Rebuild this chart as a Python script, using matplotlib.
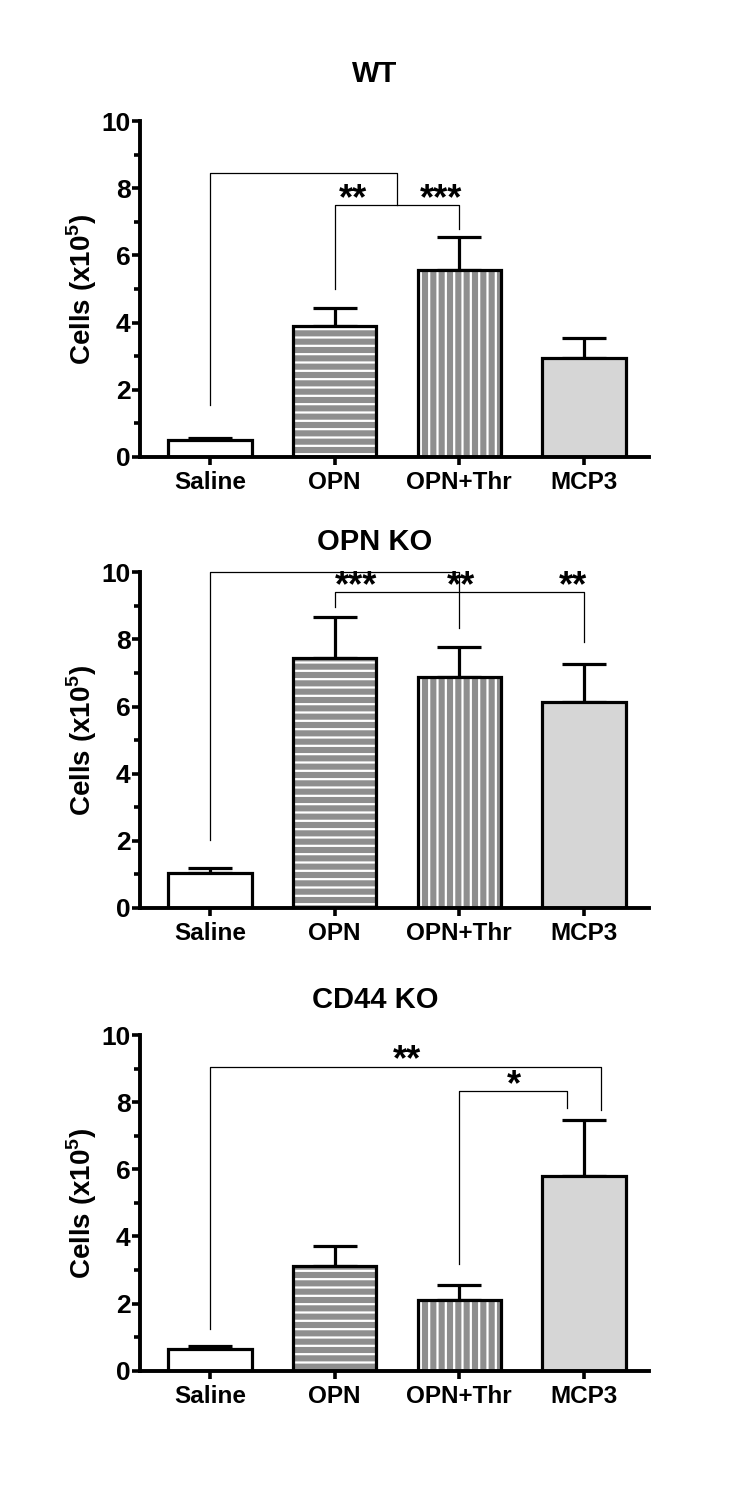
import numpy as np
import matplotlib.pyplot as plt

plt.rcParams['font.family'] = ['Liberation Sans', 'DejaVu Sans']
plt.rcParams['font.weight'] = 'bold'
plt.rcParams['mathtext.fontset'] = 'custom'
plt.rcParams['mathtext.rm'] = 'Liberation Sans:bold'
plt.rcParams['mathtext.bf'] = 'Liberation Sans:bold'
plt.rcParams['hatch.linewidth'] = 1.6

# groups and panels
groups = ["Saline", "OPN", "OPN+Thr", "MCP3"]
panels = ["WT", "OPN KO", "CD44 KO"]

# mean cell counts (x10^5) and upper SEM for each panel
wt_mean = [0.49, 3.91, 5.58, 2.95]
wt_err = [0.08, 0.53, 0.98, 0.59]
opnko_mean = [1.05, 7.45, 6.87, 6.12]
opnko_err = [0.15, 1.22, 0.90, 1.14]
cd44ko_mean = [0.64, 3.12, 2.12, 5.81]
cd44ko_err = [0.10, 0.59, 0.43, 1.67]

# significance brackets: (x_left, x_right, y_bar, y_left_end, y_right_end)
wt_brackets = [(0, 1.5, 8.47, 1.54, 7.5), (1, 2, 7.5, 5.0, 6.8)]
wt_stars = [(1.15, 7.5, "**"), (1.85, 7.5, "***")]
opnko_brackets = [(0, 2, 10.02, 2.01, 8.35), (1, 3, 9.42, 8.97, 7.93)]
opnko_stars = [(1.17, 9.42, "***"), (2.01, 9.42, "**"), (2.91, 9.42, "**")]
cd44ko_brackets = [(0, 3.135, 9.06, 1.24, 7.77), (2, 2.865, 8.34, 3.17, 7.84)]
cd44ko_stars = [(1.58, 9.06, "**"), (2.44, 8.34, "*")]

means = [wt_mean, opnko_mean, cd44ko_mean]
errs = [wt_err, opnko_err, cd44ko_err]
brackets = [wt_brackets, opnko_brackets, cd44ko_brackets]
stars = [wt_stars, opnko_stars, cd44ko_stars]

fills = ["white", "#8e8e8e", "#8e8e8e", "#d6d6d6"]
hatches = [None, "--", "||", None]

fig = plt.figure(figsize=(7.5, 15.09), dpi=100)
bottoms = [0.6972, 0.3983, 0.0916]
height = 0.2225
title_y = [0.951, 0.641, 0.337]

x = np.arange(len(groups))
for i in range(3):
    ax = fig.add_axes([0.187, bottoms[i], 0.678, height])
    # filled bars with white stripe hatching
    for j in range(len(groups)):
        ax.bar(x[j], means[i][j], width=0.67, color=fills[j],
               edgecolor="white" if hatches[j] else fills[j],
               hatch=hatches[j], linewidth=0, zorder=2)
    ax.bar(x, means[i], width=0.67, color="none", edgecolor="black",
           linewidth=2.3, zorder=3)
    ax.errorbar(x, means[i], yerr=[[0] * 4, errs[i]], fmt="none",
                ecolor="black", elinewidth=2.3, capsize=15.5, capthick=2.3,
                zorder=1)

    for (x1, x2, yb, y1, y2) in brackets[i]:
        ax.plot([x1, x1, x2, x2], [y1, yb, yb, y2], color="black",
                linewidth=0.9, zorder=4, clip_on=False)
    for (sx, sy, s) in stars[i]:
        ax.text(sx, sy - 0.12, s, ha="center", va="baseline", fontsize=26,
                fontweight="bold", zorder=5)

    ax.set_xlim(-0.56, 3.52)
    ax.set_ylim(0, 10)
    ax.set_yticks(np.arange(0, 11, 2))
    ax.set_yticks(np.arange(1, 10, 2), minor=True)
    ax.set_xticks(x)
    ax.set_xticklabels(groups, fontsize=17.5, fontweight="bold")
    ax.tick_params(axis="y", which="major", length=6, width=2.6,
                   labelsize=19, pad=1)
    ax.tick_params(axis="y", which="minor", length=4, width=2.6)
    ax.tick_params(axis="x", length=6, width=2.6, pad=4)
    for lab in ax.get_yticklabels():
        lab.set_fontweight("bold")
    for s in ["top", "right"]:
        ax.spines[s].set_visible(False)
    for s in ["left", "bottom"]:
        ax.spines[s].set_linewidth(2.8)
    ax.set_ylabel(r"Cells (x10$^{5}$)", fontsize=20, fontweight="bold")
    ax.yaxis.set_label_coords(-0.082, 0.5)
    fig.text(0.5, title_y[i], panels[i], ha="center", va="center",
             fontsize=21, fontweight="bold")

fig.savefig("out.png", dpi=100)
